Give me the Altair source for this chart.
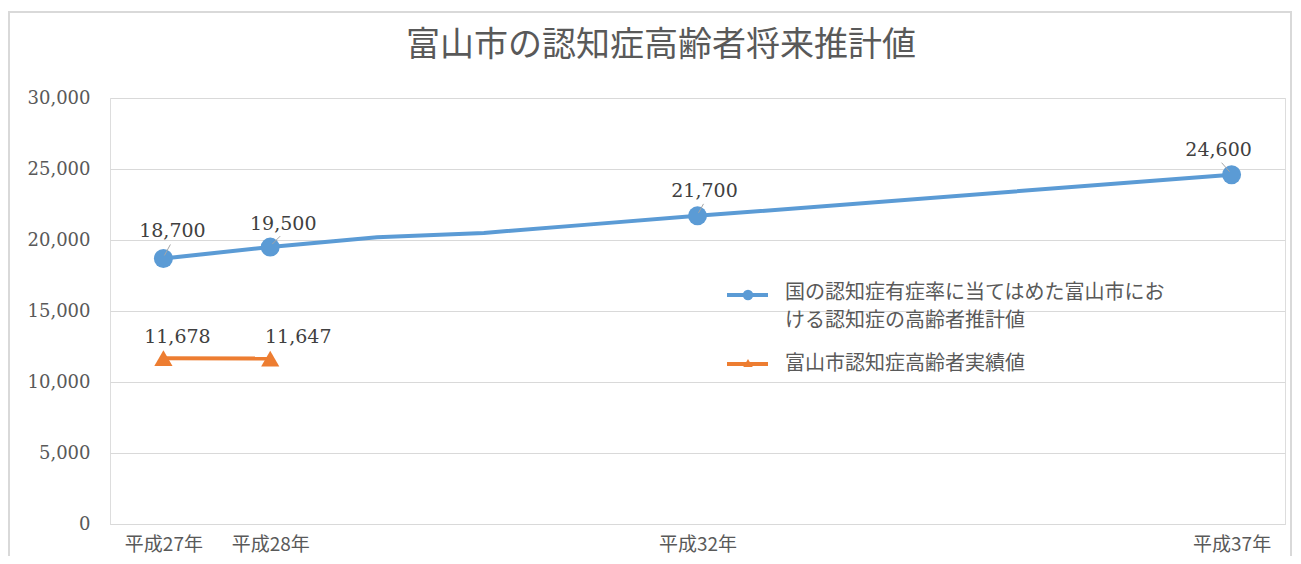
import altair as alt
import pandas as pd

# ---- data ----
categories = ["平成27年", "平成28年", "平成29年", "平成30年", "平成31年", "平成32年",
              "平成33年", "平成34年", "平成35年", "平成36年", "平成37年"]
axis_labels = ["平成27年", "平成28年", "平成32年", "平成37年"]
y_ticks = [0, 5000, 10000, 15000, 20000, 25000, 30000]

est_years = ["平成27年", "平成28年", "平成29年", "平成30年", "平成31年", "平成32年", "平成37年"]
est_values = [18700, 19500, 20200, 20500, 21100, 21700, 24600]
est_marked = ["平成27年", "平成28年", "平成32年", "平成37年"]

act_years = ["平成27年", "平成28年"]
act_values = [11678, 11647]

title_text = "富山市の認知症高齢者将来推計値"
legend_est = "国の認知症有症率に当てはめた富山市にお\nける認知症の高齢者推計値"
legend_act = "富山市認知症高齢者実績値"

BLUE = "#5B9BD5"
ORANGE = "#ED7D31"
GRID = "#D9D9D9"
TXT = "#595959"
LBL = "#404040"
SERIF = "DejaVu Serif"
CJK = "Noto Sans CJK JP"

est = pd.DataFrame({"year": est_years, "value": est_values})
est["marked"] = est["year"].isin(est_marked)
act = pd.DataFrame({"year": act_years, "value": act_values})

W, H = 1175, 426

x_enc = alt.X("year:N", sort=categories,
              scale=alt.Scale(type="point", domain=categories, padding=0.5),
              axis=alt.Axis(values=axis_labels, title=None, labelAngle=0, ticks=False,
                            domain=True, domainColor=GRID, labelFont=CJK, labelFontSize=19,
                            labelColor=TXT, labelPadding=11, grid=False))
y_enc = alt.Y("value:Q", scale=alt.Scale(domain=[0, 30000], nice=False),
              axis=alt.Axis(values=y_ticks, format=",d",
                            title=None, ticks=False, domain=False, gridColor=GRID,
                            labelFont=SERIF, labelFontSize=18, labelColor=TXT,
                            labelPadding=20))

base_est = alt.Chart(est)
base_act = alt.Chart(act)

est_line = base_est.mark_line(color=BLUE, strokeWidth=4).encode(x=x_enc, y=y_enc)
est_pts = base_est.transform_filter("datum.marked").mark_point(
    shape="circle", filled=True, size=360, color=BLUE, opacity=1).encode(x=x_enc, y=y_enc)

act_line = base_act.mark_line(color=ORANGE, strokeWidth=4).encode(x=x_enc, y=y_enc)
act_pts = base_act.mark_point(shape="triangle-up", filled=True, size=330,
                              color=ORANGE, opacity=1).encode(x=x_enc, y=y_enc)


def label(df, yr, dx, dy):
    return alt.Chart(df).transform_filter(alt.datum.year == yr).mark_text(
        font=SERIF, fontSize=19, color=LBL, dx=dx, dy=dy).encode(
        x=x_enc, y=y_enc, text=alt.Text("value:Q", format=","))


def leader(df, yr, x1, y1, x2, y2):
    return alt.Chart(df).transform_filter(alt.datum.year == yr).mark_rule(
        color="#A6A6A6", strokeWidth=1, xOffset=x1, yOffset=y1,
        x2Offset=x2, y2Offset=y2).encode(
        x=x_enc, y=y_enc, x2="year:N", y2="value:Q")


labels = [
    label(est, "平成27年", 9, -27), label(est, "平成28年", 13, -23),
    label(est, "平成32年", 7, -25), label(est, "平成37年", -13, -25),
    label(act, "平成27年", 14, -21), label(act, "平成28年", 28, -22),
    leader(est, "平成27年", 1, -3, 7, -14), leader(est, "平成28年", 2, -3, 10, -11),
    leader(est, "平成32年", 1, -3, 6, -12), leader(est, "平成37年", -2, -3, -10, -12),
]

# title as text
title = alt.Chart(pd.DataFrame({"t": [title_text]})).mark_text(
    font=CJK, fontSize=34, color=TXT, align="center", baseline="middle").encode(
    text="t:N", x=alt.value(551), y=alt.value(-52))

# frame
frame = alt.Chart(pd.DataFrame({"t": [0]})).mark_rect(
    fill=None, stroke=GRID, strokeWidth=2).encode(
    x=alt.value(-101), x2=alt.value(1181), y=alt.value(-86), y2=alt.value(500))

# manual legend
lg_est_line = alt.Chart(pd.DataFrame({"t": [0]})).mark_rule(color=BLUE, strokeWidth=4).encode(
    x=alt.value(617), x2=alt.value(658), y=alt.value(197))
lg_est_pt = alt.Chart(pd.DataFrame({"t": [0]})).mark_point(
    shape="circle", filled=True, size=110, color=BLUE, opacity=1).encode(
    x=alt.value(638), y=alt.value(197))
lg_est_txt1 = alt.Chart(pd.DataFrame({"t": [legend_est.split("\n")[0]]})).mark_text(
    font=CJK, fontSize=20, color=TXT, align="left", baseline="middle").encode(
    text="t:N", x=alt.value(675), y=alt.value(195))
lg_est_txt2 = alt.Chart(pd.DataFrame({"t": [legend_est.split("\n")[1]]})).mark_text(
    font=CJK, fontSize=20, color=TXT, align="left", baseline="middle").encode(
    text="t:N", x=alt.value(675), y=alt.value(223))
lg_act_line = alt.Chart(pd.DataFrame({"t": [0]})).mark_rule(color=ORANGE, strokeWidth=4).encode(
    x=alt.value(617), x2=alt.value(658), y=alt.value(266))
lg_act_pt = alt.Chart(pd.DataFrame({"t": [0]})).mark_point(
    shape="triangle-up", filled=True, size=90, color=ORANGE, opacity=1).encode(
    x=alt.value(638), y=alt.value(265))
lg_act_txt = alt.Chart(pd.DataFrame({"t": [legend_act]})).mark_text(
    font=CJK, fontSize=20, color=TXT, align="left", baseline="middle").encode(
    text="t:N", x=alt.value(675), y=alt.value(266))

chart = alt.layer(
    frame, est_line, act_line, est_pts, act_pts, *labels, title,
    lg_est_line, lg_est_pt, lg_est_txt1, lg_est_txt2, lg_act_line, lg_act_pt, lg_act_txt,
).properties(
    width=W, height=H,
    autosize=alt.AutoSizeParams(type="none"),
    padding={"left": 102, "top": 90, "right": 8, "bottom": 32},
).configure_view(stroke=None).configure(background="white")

chart.save("out.html", embed_options={"renderer": "svg", "actions": False})
